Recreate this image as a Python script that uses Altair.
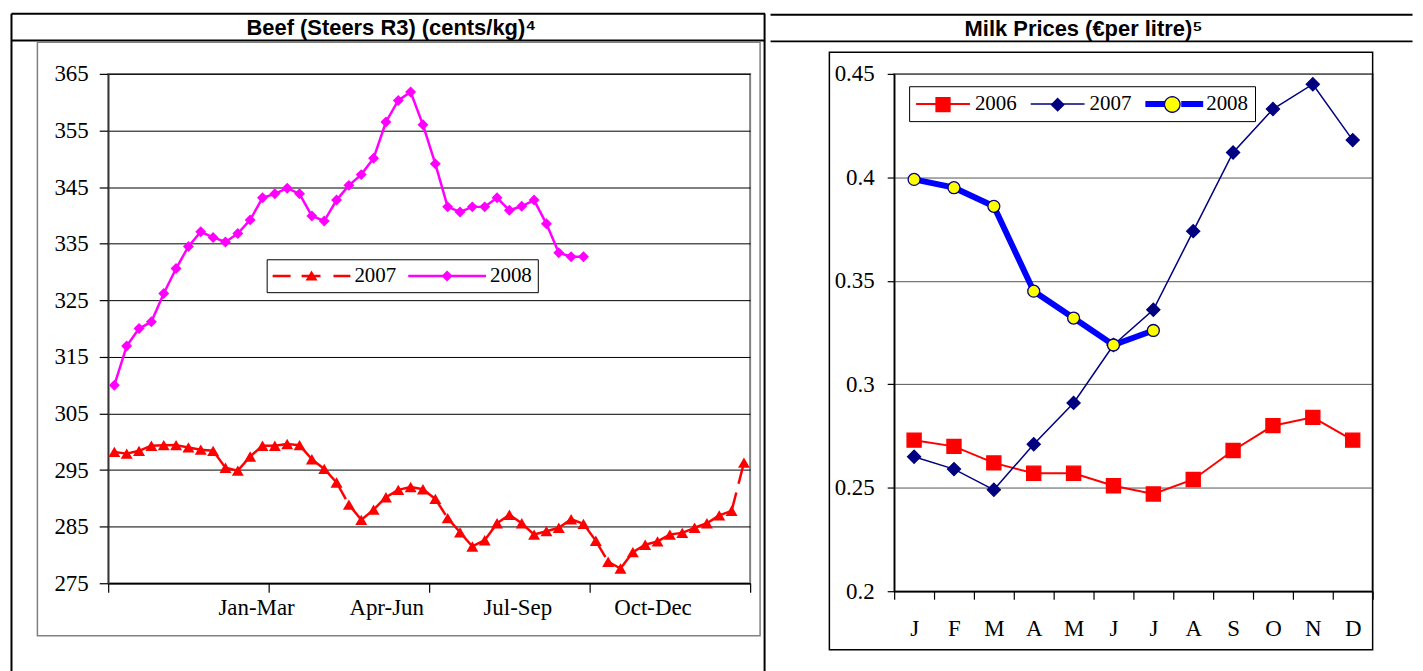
import json
import math
import altair as alt
import pandas as pd

# ---------------- data ----------------
beef_series = ["2007", "2008"]
beef_2007 = [298.2, 297.9, 298.4, 299.3, 299.4, 299.4, 299.0, 298.6, 298.4, 295.4,
             294.9, 297.4, 299.3, 299.3, 299.6, 299.4, 296.9, 295.2, 292.8, 288.9,
             286.2, 288.0, 290.2, 291.5, 292.0, 291.6, 289.9, 286.5, 284.0, 281.5,
             282.6, 285.6, 287.1, 285.6, 283.6, 284.2, 284.8, 286.3, 285.5, 282.5,
             278.8, 277.6, 280.5, 281.8, 282.4, 283.6, 283.9, 284.8, 285.6, 287.0,
             287.8, 296.3]
beef_2008 = [310.0, 316.9, 320.0, 321.2, 326.2, 330.6, 334.5, 337.1, 336.1, 335.3,
             336.8, 339.2, 343.1, 343.8, 344.8, 343.8, 339.9, 339.0, 342.7, 345.3,
             347.2, 350.1, 356.5, 360.3, 361.8, 356.0, 349.1, 341.5, 340.6, 341.5,
             341.5, 343.1, 340.9, 341.6, 342.7, 338.5, 333.4, 332.7, 332.7]
beef_weeks = 52
beef_tick_weeks = [0, 13, 26, 39, 52]
beef_quarter_labels = ["Jan-Mar", "Apr-Jun", "Jul-Sep", "Oct-Dec"]
beef_quarter_label_weeks = [11.98, 22.52, 33.14, 44.09]
beef_y_ticks = [275, 285, 295, 305, 315, 325, 335, 345, 355, 365]

milk_months = ["J", "F", "M", "A", "M", "J", "J", "A", "S", "O", "N", "D"]
milk_series = ["2006", "2007", "2008"]
milk_years = [2006, 2007, 2008]
milk_2006 = [0.273, 0.270, 0.262, 0.257, 0.257, 0.251, 0.247, 0.254, 0.268, 0.280, 0.284, 0.273]
milk_2007 = [0.265, 0.259, 0.249, 0.271, 0.291, 0.319, 0.336, 0.374, 0.412, 0.433, 0.445, 0.418]
milk_2008 = [0.399, 0.395, 0.386, 0.345, 0.332, 0.319, 0.326]
milk_y_ticks = [0.2, 0.25, 0.3, 0.35, 0.4, 0.45]

beef_title = "Beef (Steers R3) (cents/kg)\u2074"
milk_title = "Milk Prices (\u20acper litre)\u2075"

# ---------------- style ----------------
SERIF = "Liberation Serif"
SANS = "Liberation Sans"
RED = "#FF0000"
MAGENTA = "#FF00FF"
NAVY = "#000080"
BLUE = "#0000FF"
YELLOW = "#FFFF00"
GRAY = "#808080"

one = pd.DataFrame({"k": [0]})


def hline(x1, x2, y, color="black", w=2):
    return alt.Chart(one).mark_rule(color=color, strokeWidth=w, strokeCap="butt").encode(
        x=alt.value(x1), x2=alt.value(x2), y=alt.value(y))


def vline(x, y1, y2, color="black", w=2):
    return alt.Chart(one).mark_rule(color=color, strokeWidth=w, strokeCap="butt").encode(
        x=alt.value(x), y=alt.value(y1), y2=alt.value(y2))


def frame(x1, y1, x2, y2, color, w):
    return alt.Chart(one).mark_rect(fill="transparent", stroke=color, strokeWidth=w).encode(
        x=alt.value(x1), x2=alt.value(x2), y=alt.value(y1), y2=alt.value(y2))


def header(text, x, y):
    return alt.Chart(one).mark_text(text=text, font=SANS, fontSize=22, fontWeight="bold",
                                    color="black", align="center", baseline="alphabetic").encode(
        x=alt.value(x), y=alt.value(y))


def by_value(domain, values):
    """Vega expression choosing a value per legend entry."""
    expr = "'%s'" % values[-1]
    for d, v in reversed(list(zip(domain[:-1], values[:-1]))):
        expr = "datum.value == %s ? '%s' : %s" % (json.dumps(d), v, expr)
    return {"expr": "(" + expr + ")"}


def label_expr(positions, labels):
    return " : ".join("datum.value == %s ? '%s'" % (p, l)
                      for p, l in zip(positions, labels)) + " : ''"


def rect_path(x1, x2, h):
    return "M%g,%gH%gV%gH%gZ" % (x1, -h, x2, h, x1)


def circle_path(r, n=28):
    pts = ["%s%.3f,%.3f" % ("M" if i == 0 else "L", r * math.cos(2 * math.pi * i / n),
                            r * math.sin(2 * math.pi * i / n)) for i in range(n)]
    return "".join(pts) + "Z"


# ---------------- beef chart ----------------
b07 = pd.DataFrame({"week": [i + 0.5 for i in range(len(beef_2007))], "value": beef_2007,
                    "series": beef_series[0]})
b08 = pd.DataFrame({"week": [i + 0.5 for i in range(len(beef_2008))], "value": beef_2008,
                    "series": beef_series[1]})
seg07 = pd.DataFrame({"x": b07["week"].values[:-1], "x2": b07["week"].values[1:],
                      "y": beef_2007[:-1], "y2": beef_2007[1:]})

W1, H1 = 644, 511
bx = alt.Scale(domain=[0, beef_weeks], nice=False, zero=False)
by = alt.Scale(domain=[beef_y_ticks[0], beef_y_ticks[-1]], nice=False, zero=False)

beef_x_axis = alt.Axis(
    values=sorted(beef_tick_weeks + beef_quarter_label_weeks),
    labelExpr=label_expr(beef_quarter_label_weeks, beef_quarter_labels),
    tickColor={"condition": {"test": "indexof(%s, datum.value) >= 0" % json.dumps(beef_tick_weeks),
                             "value": "#000000"}, "value": "transparent"},
    tickSize=9, tickWidth=1.2, domainColor="#000000", domainWidth=1.5, grid=False,
    labelFont=SERIF, labelFontSize=23, labelColor="black", labelPadding=4.5,
    labelOverlap=False, labelFlush=False, title=None)
beef_y_axis = alt.Axis(
    values=beef_y_ticks, format="d", tickSize=9, tickColor="#000000", tickWidth=1.2,
    domainColor="#333333", domainWidth=1.5, grid=True, gridColor="#000000", gridWidth=1,
    labelFont=SERIF, labelFontSize=23, labelColor="black", labelPadding=11, title=None)

beef_leg_paths = [
    rect_path(-3.9, -2.1, 0.125) + rect_path(-1.0, 0.9, 0.125)
    + "M0,-0.55L0.6,0.46L-0.6,0.46Z" + rect_path(2.2, 3.9, 0.125),
    rect_path(-3.9, 3.9, 0.125) + "M0,-0.56L0.56,0L0,0.56L-0.56,0Z",
]
beef_legend = alt.Legend(
    orient="none", legendX=159, legendY=186, direction="horizontal", title=None,
    padding=6, strokeColor="black", fillColor="white", columnPadding=12,
    symbolSize=400, symbolStrokeWidth=0, symbolOffset=28.5, labelOffset=32.5,
    symbolType=by_value(beef_series, beef_leg_paths),
    labelFont=SERIF, labelFontSize=21, labelColor="black", symbolOpacity=1)
beef_color = alt.Color("series:N", scale=alt.Scale(domain=beef_series, range=[RED, MAGENTA]),
                       legend=beef_legend)

b_seg = alt.Chart(seg07).mark_rule(color=RED, strokeWidth=2.5, strokeDash=[19, 9],
                                   strokeCap="butt").encode(
    x=alt.X("x:Q", scale=bx, axis=beef_x_axis),
    y=alt.Y("y:Q", scale=by, axis=beef_y_axis),
    x2="x2:Q", y2="y2:Q")
b_line08 = alt.Chart(b08).mark_line(color=MAGENTA, strokeWidth=2.5).encode(
    x=alt.X("week:Q", scale=bx), y=alt.Y("value:Q", scale=by))
b_pts07 = alt.Chart(b07).mark_point(shape="triangle-up", filled=True, size=144, opacity=1).encode(
    x=alt.X("week:Q", scale=bx), y=alt.Y("value:Q", scale=by), color=beef_color)
b_pts08 = alt.Chart(b08).mark_point(shape="diamond", filled=True, size=121, opacity=1).encode(
    x=alt.X("week:Q", scale=bx), y=alt.Y("value:Q", scale=by), color=beef_color)

left_deco = [
    hline(-97, 659, -60.3),
    hline(-97, 659, -33.6),
    vline(-97, -60.3, 610),
    vline(658.5, -60.3, 610),
    frame(-71, -31.8, 654, 563.7, GRAY, 1.5),
    header(beef_title, 284, -39.3),
]
left = alt.layer(*left_deco, b_seg, b_line08, b_pts07, b_pts08).properties(width=W1, height=H1)

# ---------------- milk chart ----------------
def milk_df(vals, s, y):
    return pd.DataFrame({"m": [i + 0.5 for i in range(len(vals))], "value": vals,
                         "series": s, "myear": y})

m06 = milk_df(milk_2006, milk_series[0], milk_years[0])
m07 = milk_df(milk_2007, milk_series[1], milk_years[1])
m08 = milk_df(milk_2008, milk_series[2], milk_years[2])
m_all = pd.concat([m06, m07, m08], ignore_index=True)

W2, H2 = 480, 519
mx = alt.Scale(domain=[0, len(milk_months)], nice=False, zero=False)
my = alt.Scale(domain=[milk_y_ticks[0], milk_y_ticks[-1]], nice=False, zero=False)

milk_tick_pos = list(range(len(milk_months) + 1))
milk_label_pos = [i + 0.5 for i in range(len(milk_months))]
milk_x_axis = alt.Axis(
    values=sorted(milk_tick_pos + milk_label_pos),
    labelExpr=label_expr(milk_label_pos, milk_months),
    tickColor={"condition": {"test": "indexof(%s, datum.value) >= 0" % json.dumps(milk_tick_pos),
                             "value": "#000000"}, "value": "transparent"},
    tickSize=8, tickWidth=1.2, domainColor="#000000", domainWidth=1.5, grid=False,
    labelFont=SERIF, labelFontSize=23, labelColor="black", labelPadding=18,
    labelOverlap=False, labelFlush=False, title=None)
milk_y_axis = alt.Axis(
    values=milk_y_ticks, format=".2~f", tickSize=7, tickColor="#000000", tickWidth=1.2,
    domainColor="#000000", domainWidth=1.5, grid=True, gridColor="#555555", gridWidth=1,
    labelFont=SERIF, labelFontSize=23, labelColor="black", labelPadding=13, title=None)

line_paths = [rect_path(-2.7, 2.7, 0.1), rect_path(-2.7, 2.7, 0.075),
              rect_path(-2.9, -0.7, 0.3) + rect_path(0.7, 2.9, 0.3)]
marker_paths = ["M-0.7,-0.7H0.7V0.7H-0.7Z",
                "M0,-0.62L0.62,0L0,0.62L-0.62,0Z",
                circle_path(0.78)]
common_leg = dict(orient="none", legendX=15, legendY=12.4, direction="horizontal", title=None,
                  padding=7, columnPadding=14, symbolSize=400, labelFont=SERIF,
                  labelFontSize=21, labelColor="black", symbolOpacity=1, fillColor="transparent")
milk_legend_lines = alt.Legend(
    strokeColor="black", symbolStrokeWidth=0, symbolOffset=16.5,
    labelOffset=21.5, symbolType=by_value(milk_series, line_paths),
    symbolFillColor=by_value(milk_series, [RED, NAVY, BLUE]),
    **common_leg)
milk_legend_marks = alt.Legend(
    strokeColor="transparent", symbolStrokeWidth=1.3,
    symbolOffset=16, labelOffset=21, labelOpacity=0,
    symbolType=by_value(milk_years, marker_paths),
    symbolStrokeColor=by_value(milk_years, [RED, NAVY, NAVY]),
    **common_leg)

milk_color = alt.Color("series:N", scale=alt.Scale(domain=milk_series, range=[RED, NAVY, BLUE]),
                       legend=milk_legend_lines)


def mline(df, w):
    return alt.Chart(df).mark_line().encode(
        x=alt.X("m:Q", scale=mx, axis=milk_x_axis),
        y=alt.Y("value:Q", scale=my, axis=milk_y_axis),
        color=milk_color, strokeWidth=alt.value(w))


ml06 = mline(m06, 2)
ml07 = mline(m07, 1.5)
ml08 = mline(m08, 6)
# fill carries the explicit domain (and the marker legend); the other marker channels take
# their domain from the data so that their disabled legends are not merged with it
mpts = alt.Chart(m_all).mark_point(filled=True, strokeWidth=1.3, opacity=1).encode(
    x=alt.X("m:Q", scale=mx, axis=milk_x_axis), y=alt.Y("value:Q", scale=my, axis=milk_y_axis),
    fill=alt.Fill("myear:O", scale=alt.Scale(domain=milk_years, range=[RED, NAVY, YELLOW]),
                  legend=milk_legend_marks),
    stroke=alt.Stroke("myear:O", scale=alt.Scale(range=[RED, NAVY, NAVY]), legend=None),
    shape=alt.Shape("myear:O", scale=alt.Scale(range=["square", "diamond", "circle"]),
                    legend=None),
    size=alt.Size("myear:O", scale=alt.Scale(range=[200, 144, 240]), legend=None))

right_deco = [
    hline(-124, 520, -59.3),
    hline(-124, 520, -32.6),
    frame(-65, -21.6, 480, 577.7, "black", 1.5),
    header(milk_title, 190, -38.3),
]
right = alt.layer(*right_deco, ml06, ml07, ml08, mpts).properties(width=W2, height=H2)

chart = alt.hconcat(left, right, spacing=1.5).resolve_scale(
    color="independent", fill="independent", stroke="independent",
    shape="independent", size="independent",
).resolve_legend(
    color="independent", fill="independent", stroke="independent",
    shape="independent", size="independent",
).properties(
    padding={"left": 1.5, "top": 2, "right": 0, "bottom": 0},
    background="white",
).configure_view(stroke=GRAY, strokeWidth=2)

chart.save("out.html", embed_options={"renderer": "svg", "actions": False})
